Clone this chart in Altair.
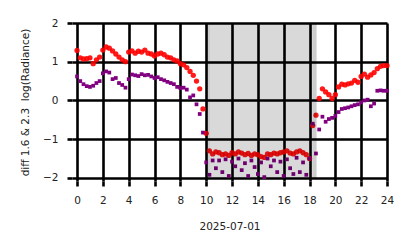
import altair as alt
import pandas as pd

step = 0.25
red_vals = [
    1.29, 1.10, 1.07, 1.08,
    1.10, 0.95, 1.05, 1.12,
    1.30, 1.38, 1.35, 1.28,
    1.20, 1.12, 1.05, 1.00,
    1.25, 1.28, 1.22, 1.27,
    1.25, 1.30, 1.22, 1.20,
    1.15, 1.20, 1.22, 1.18,
    1.12, 1.10, 1.05, 1.02,
    0.95, 0.92, 0.85, 0.75,
    0.65, 0.50, 0.30, -0.22,
    -0.85, -1.30, -1.38, -1.33,
    -1.35, -1.40, -1.38, -1.42,
    -1.35, -1.38, -1.33, -1.36,
    -1.40, -1.37, -1.42, -1.38,
    -1.40, -1.45, -1.47, -1.38,
    -1.40, -1.36, -1.38, -1.35,
    -1.33, -1.30, -1.36, -1.38,
    -1.33, -1.30, -1.35, -1.40,
    -1.50, -0.65, -0.38, 0.05,
    0.30, 0.22, 0.15, 0.05,
    0.15, 0.35, 0.42, 0.40,
    0.43, 0.45, 0.52, 0.47,
    0.62, 0.68, 0.60, 0.66,
    0.72, 0.82, 0.88, 0.90,
    0.90,
]
purple_vals = [
    0.62, 0.50, 0.42, 0.37,
    0.35, 0.38, 0.45, 0.50,
    0.70, 0.75, 0.72, 0.55,
    0.58, 0.45, 0.40, 0.33,
    0.55, 0.67, 0.65, 0.63,
    0.68, 0.65, 0.66, 0.62,
    0.58, 0.60, 0.55, 0.52,
    0.48, 0.45, 0.42, 0.35,
    0.32, 0.33, 0.28, 0.08,
    0.13, -0.10, -0.35, -0.83,
    -1.60, -1.92, -1.55, -1.75,
    -1.55, -1.85, -1.52, -1.95,
    -1.58, -1.70, -1.50, -1.80,
    -1.62, -1.95, -1.55, -1.72,
    -1.90, -1.60, -1.98, -1.50,
    -1.70, -1.55, -1.85, -1.58,
    -1.95, -1.52, -1.75, -1.90,
    -1.48, -1.85, -1.60, -1.92,
    -1.50, -0.60, -1.37, -0.75,
    -0.42, -0.55, -0.48, -0.45,
    -0.40, -0.30, -0.22, -0.20,
    -0.18, -0.15, -0.12, -0.10,
    -0.05, 0.00, 0.02, -0.15,
    -0.08, 0.25, 0.26, 0.25,
    0.25,
]
hours = [i * step for i in range(len(red_vals))]
x_ticks = [0, 2, 4, 6, 8, 10, 12, 14, 16, 18, 20, 22, 24]
y_ticks = [-2, -1, 0, 1, 2]
night_start, night_end = 10.0, 18.55
edge_spans = [(10.0, 10.3), (18.25, 18.55)]

red_df = pd.DataFrame({"h": hours, "v": red_vals})
pur_df = pd.DataFrame({"h": hours, "v": purple_vals})
span_df = pd.DataFrame({"x0": [night_start], "x1": [night_end], "y0": [-2], "y1": [2]})
edge_df = pd.DataFrame({"x0": [a for a, b in edge_spans], "x1": [b for a, b in edge_spans],
                        "y0": [-2, -2], "y1": [2, 2]})

xs = alt.Scale(domain=[-0.39, 24], nice=False, zero=False)
ys = alt.Scale(domain=[-2.08, 2], nice=False, zero=False)

common = dict(grid=True, gridColor="black", gridWidth=2.6, gridOpacity=1,
              tickColor="black", tickWidth=2.6, tickSize=5, domain=False,
              labelPadding=9, labelFontSize=10.5, titleFontSize=10.5,
              titleFontWeight="normal", labelColor="#222", titleColor="#222",
              labelFont="DejaVu Sans", titleFont="DejaVu Sans", labelOverlap=False,
              labelFlush=False)
xaxis = alt.Axis(values=x_ticks, title="2025-07-01", titlePadding=16, **common)
yaxis = alt.Axis(values=y_ticks, title="diff 1.6 & 2.3\u00a0 log(Radiance)",
                 titlePadding=12, **common)

X = lambda f: alt.X(f, type="quantitative", scale=xs, axis=xaxis)
Y = lambda f: alt.Y(f, type="quantitative", scale=ys, axis=yaxis)

red = alt.Chart(red_df).mark_point(shape="circle", filled=True, size=28, color="#ff0000",
                                   opacity=0.9).encode(x=X("h"), y=Y("v"))
pur = alt.Chart(pur_df).mark_point(shape="square", filled=True, size=14, color="#800080",
                                   opacity=1).encode(x=X("h"), y=Y("v"))
span = alt.Chart(span_df).mark_rect(color="black", opacity=0.15).encode(
    x=X("x0"), x2="x1", y=Y("y0"), y2="y1")
edges = alt.Chart(edge_df).mark_rect(color="black", opacity=0.05).encode(
    x=X("x0"), x2="x1", y=Y("y0"), y2="y1")

chart = alt.layer(red, pur, span, edges).properties(
    width=315, height=158,
    autosize=alt.AutoSizeParams(type="none"),
    padding={"left": 72, "top": 23, "right": 27, "bottom": 67},
    background="white",
).configure_view(stroke=None)

chart.save("out.html", embed_options={"renderer": "svg", "actions": False})
